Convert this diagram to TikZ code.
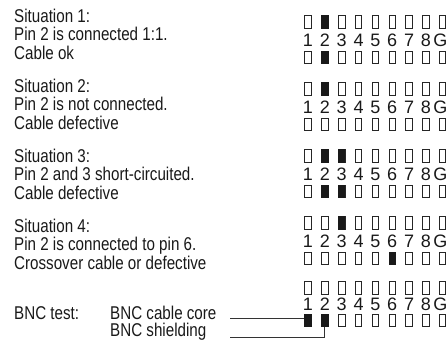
\documentclass[tikz,border=0pt]{standalone}
\usepackage{fontspec}
\setmainfont[FakeStretch=0.82]{Liberation Sans}
\newfontfamily\pinfont{Liberation Sans}

\begin{document}
\begin{tikzpicture}[x=1pt,y=-1pt,
  pin/.style={draw=black!85, line width=0.9pt, minimum width=6.6pt,
              minimum height=12.6pt, inner sep=0pt, anchor=north},
  pinfill/.style={fill=black!90},
  pinno/.style={font=\pinfont\fontsize{18}{18}\selectfont, inner sep=0pt,
                anchor=base, text=black!90},
  txt/.style={font=\fontsize{18.5}{18.5}\selectfont, inner sep=0pt,
              anchor=base west, text=black!90},
  wire/.style={draw=black!80, line width=1pt}]

\useasboundingbox (0,0) rectangle (447,340);

% situation texts
\draw (14,22)    node[txt] (s1a) {Situation 1:}
      (14,40.5)  node[txt] (s1b) {Pin 2 is connected 1:1.}
      (14,59)    node[txt] (s1c) {Cable ok};

\draw (14,92)    node[txt] (s2a) {Situation 2:}
      (14,110.5) node[txt] (s2b) {Pin 2 is not connected.}
      (14,129)   node[txt] (s2c) {Cable defective};

\draw (14,162)   node[txt] (s3a) {Situation 3:}
      (14,180.5) node[txt] (s3b) {Pin 2 and 3 short-circuited.}
      (14,199)   node[txt] (s3c) {Cable defective};

\draw (14,232)   node[txt] (s4a) {Situation 4:}
      (14,250.5) node[txt] (s4b) {Pin 2 is connected to pin 6.}
      (14,269)   node[txt] (s4c) {Crossover cable or defective};

% BNC test
\draw (14,319)    node[txt] (bnc)    {BNC test:}
      (110,319)   node[txt] (core)   {BNC cable core}
      (110,336.5) node[txt] (shield) {BNC shielding};

% pin rows with numbers (top row, numbers, bottom row)
\foreach \g/\yt/\yd/\yb in {1/15/46.7/50.5, 2/82/113.7/117.5,
                            3/149/180.7/184.5, 4/216/247.7/251.5,
                            5/281/310/313.5} {
  \foreach \k/\d in {1/1, 2/2, 3/3, 4/4, 5/5, 6/6, 7/7, 8/8} {
    \node[pin]   (t\g-\k) at (291.15+16.85*\k, \yt) {};
    \node[pinno] (d\g-\k) at (291.15+16.85*\k, \yd) {\d};
    \node[pin]   (b\g-\k) at (291.15+16.85*\k, \yb) {};
  }
  \node[pin] (t\g-9) at (442.6, \yt) {};
  \node[pinno, anchor=base east] (d\g-9) at (447.6, \yd) {G};
  \node[pin] (b\g-9) at (442.6, \yb) {};
}

% lit pins
\foreach \n in {t1-2, b1-2, t2-2, t3-2, t3-3, b3-2, b3-3, t4-3, b4-6, b5-1, b5-2}
  \fill[pinfill] (\n.north west) rectangle (\n.south east);

% BNC wires
\coordinate (corein) at (230,318.5);
\coordinate (shieldin) at (230,337.5);
\draw[wire] (corein) -- (corein -| b5-1.west);
\draw[wire] (shieldin) -| (b5-2.south);

\end{tikzpicture}
\end{document}
